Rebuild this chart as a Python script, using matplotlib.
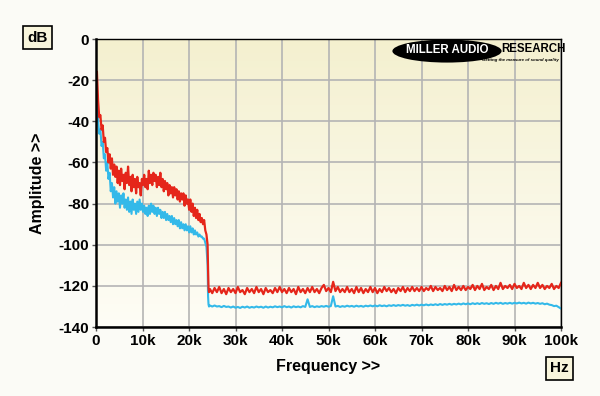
import numpy as np
import matplotlib.pyplot as plt
from matplotlib.colors import LinearSegmentedColormap
from matplotlib.patches import Ellipse

# frequency in kHz, level in dB
red_lo = [-16, -30, -38, -37, -44, -42, -50, -48, -55, -53, -60, -56, -63, -58, -66, -61,
          -67, -62, -70, -64, -71, -63, -69, -66, -73, -65, -70, -62, -71, -67, -74, -66,
          -72, -68, -75, -67, -72, -70, -76, -68, -71, -66, -72, -68, -73, -64, -70, -66,
          -71, -65, -69, -66, -72, -67, -71, -65, -72, -68, -74, -69, -73, -70, -76, -71,
          -75, -72, -77, -72, -76, -73, -78, -74, -79, -75, -78, -75, -81, -76, -80, -78,
          -83, -78, -84, -80, -86, -82, -87, -83, -88, -85, -89, -87, -90, -88, -93, -95,
          -100]
blue_lo = [-30, -40, -46, -44, -52, -50, -58, -56, -64, -60, -68, -65, -74, -70, -77, -72,
           -80, -74, -79, -75, -82, -76, -80, -75, -82, -78, -83, -77, -84, -79, -85, -78,
           -83, -80, -85, -79, -84, -78, -83, -80, -84, -81, -85, -82, -86, -81, -85, -80,
           -84, -81, -85, -82, -86, -82, -85, -83, -87, -84, -87, -84, -88, -85, -88, -86,
           -89, -86, -90, -87, -90, -88, -91, -88, -92, -89, -92, -90, -93, -90, -93, -91,
           -94, -91, -94, -92, -95, -93, -95, -94, -96, -95, -96, -96, -97, -97, -99, -101,
           -110]

red_edge_f = [24.1, 24.2, 24.3]
red_edge = [-112, -121, -123]
blue_edge_f = [24.1, 24.2, 24.3]
blue_edge = [-125, -129, -130]

red_floor = [-121.5, -123.5, -121, -123, -120.5, -123.5, -121.5, -124, -121, -123,
             -121.5, -123.5, -120.5, -123, -122, -124, -121, -123, -121.5, -123.5,
             -120.5, -123, -121.5, -124, -121, -123, -122, -123.5, -121, -123,
             -120.5, -123, -121.5, -123.5, -121, -123, -121.5, -124, -120.5, -123,
             -121.5, -123.5, -121, -123, -120.5, -123, -121.5, -123.5, -121, -119.5,
             -122.5, -121, -123, -118, -122.5, -120.5, -123, -121.5, -123, -120.5,
             -123, -121.5, -123.5, -120.5, -123, -121, -123.5, -121.5, -123, -120.5,
             -123, -121, -123.5, -121.5, -123, -120.5, -122.5, -121, -123, -121.5,
             -123.5, -121, -122.5, -120.5, -123, -121, -122.5, -120.5, -122.5, -121,
             -122.5, -120.5, -122.5, -121, -122, -120, -122.5, -120.5, -122, -121,
             -122.5, -120, -122, -120.5, -122.5, -119.5, -122, -120.5, -122, -120,
             -122, -120.5, -121.5, -119.5, -122, -120, -121.5, -119, -122, -120.5,
             -121.5, -119.5, -122, -120, -121.5, -118.5, -121.5, -120, -121, -119.5,
             -121.5, -119, -121, -120, -121.5, -118.5, -121, -119.5, -121.5, -119.5,
             -121, -118.5, -121, -119.5, -121.5, -120, -121, -119, -121.5, -120,
             -121, -118.5]
blue_floor = [-129.5, -130, -129.5, -130, -129.8, -130.3, -129.7, -130.2, -130, -130.5,
              -130, -130.6, -130.2, -130.7, -130.1, -130.5, -130, -130.6, -130.2, -130.5,
              -130, -130.4, -130.1, -130.6, -130, -130.5, -130.1, -130.4, -129.9, -130.3,
              -130, -130.4, -129.8, -130.3, -130, -130.5, -129.9, -130.3, -130, -130.4,
              -129.8, -130.2, -126.5, -130.2, -129.8, -130.3, -129.9, -130.2, -129.8, -130.1,
              -129.7, -130.1, -129.8, -125, -130, -129.7, -130.2, -129.8, -130.1, -129.6,
              -130, -129.7, -130.1, -129.6, -130, -129.7, -130.1, -129.6, -129.9, -129.5,
              -129.9, -129.5, -129.9, -129.4, -129.8, -129.5, -129.9, -129.4, -129.7, -129.3,
              -129.7, -129.3, -129.6, -129.2, -129.6, -129.3, -129.7, -129.2, -129.5, -129.1,
              -129.5, -129.1, -129.4, -129, -129.4, -129, -129.3, -128.9, -129.3, -128.8,
              -129.2, -128.8, -129.1, -128.7, -129.1, -128.7, -129, -128.6, -129, -128.5,
              -128.9, -128.5, -128.9, -128.4, -128.8, -128.4, -128.8, -128.3, -128.7, -128.4,
              -128.8, -128.3, -128.7, -128.2, -128.6, -128.2, -128.7, -128.3, -128.6, -128.2,
              -128.6, -128.2, -128.5, -128.1, -128.5, -128.2, -128.6, -128.1, -128.5, -128.2,
              -128.6, -128.3, -128.7, -128.4, -128.9, -128.6, -129.1, -129.3, -129.8, -129.6,
              -130.3, -131]

x_ticks = [0, 10, 20, 30, 40, 50, 60, 70, 80, 90, 100]
x_labels = ['0', '10k', '20k', '30k', '40k', '50k', '60k', '70k', '80k', '90k', '100k']
y_ticks = [0, -20, -40, -60, -80, -100, -120, -140]

red_f = np.concatenate([np.linspace(0.2, 24, len(red_lo)), red_edge_f,
                        np.linspace(24.5, 100, len(red_floor))])
red_db = np.concatenate([red_lo, red_edge, red_floor])
blue_f = np.concatenate([np.linspace(0.2, 24, len(blue_lo)), blue_edge_f,
                         np.linspace(24.5, 100, len(blue_floor))])
blue_db = np.concatenate([blue_lo, blue_edge, blue_floor])

plt.rcParams['font.family'] = ['Liberation Sans', 'DejaVu Sans']
plt.rcParams['font.weight'] = 'bold'
plt.rcParams['axes.unicode_minus'] = False

fig = plt.figure(figsize=(6, 3.96), dpi=100, facecolor='#fbfbf6')
ax = fig.add_axes([0.16, 0.174, 0.775, 0.7275])

# background gradient
cmap = LinearSegmentedColormap.from_list('bg', ['#fefdf6', '#f4f0cf'])
grad = np.linspace(0, 1, 256).reshape(-1, 1)
ax.imshow(grad, extent=[0, 100, -140, 0], aspect='auto', cmap=cmap,
          origin='lower', zorder=0)

ax.plot(blue_f, blue_db, color='#33b9e9', lw=1.5, zorder=3)
ax.plot(red_f, red_db, color='#e5261a', lw=1.6, zorder=4)

ax.set_xlim(0, 100)
ax.set_ylim(-140, 0)
ax.set_xticks(x_ticks)
ax.set_xticklabels(x_labels, fontweight='bold')
ax.set_yticks(y_ticks)
ax.set_yticklabels([str(v) for v in y_ticks], fontweight='bold')
ax.grid(True, color='#b4b4b4', lw=1.2, zorder=1)
for g in ax.get_xgridlines() + ax.get_ygridlines():
    g.set_zorder(1)
ax.tick_params(axis='both', labelsize=11, length=3, width=1, color='#555555', pad=2)
for s in ax.spines.values():
    s.set_color('black')
    s.set_linewidth(1.0)
    s.set_zorder(5)
ax.spines['left'].set_linewidth(1.8)
ax.spines['bottom'].set_linewidth(1.8)

ax.set_xlabel('Frequency >>', fontsize=11.5, fontweight='bold', labelpad=8)
ax.set_ylabel('Amplitude >>', fontsize=11.5, fontweight='bold', labelpad=10)

box = dict(boxstyle='square,pad=0.28', facecolor='#f8f5dc', edgecolor='black', lw=1.2)
fig.text(0.063, 0.905, 'dB', fontsize=11, fontweight='bold', ha='center', va='center', bbox=box)
fig.text(0.933, 0.07, 'Hz', fontsize=11, fontweight='bold', ha='center', va='center', bbox=box)

# logo
fig.patches.append(Ellipse((0.745, 0.871), 0.182, 0.058, transform=fig.transFigure,
                           facecolor='black', edgecolor='none', zorder=10))
fig.text(0.745, 0.874, 'MILLER AUDIO', color='white', fontsize=8.3, fontweight='heavy',
         ha='center', va='center', zorder=11)
fig.text(0.836, 0.876, 'RESEARCH', color='black', fontsize=8.3, fontweight='heavy',
         ha='left', va='center', zorder=11)
fig.text(0.932, 0.848, 'Getting the measure of sound quality', color='black', fontsize=3.2,
         fontweight='bold', style='italic', ha='right', va='center', zorder=11)

fig.savefig('out.png', dpi=100, facecolor=fig.get_facecolor())
